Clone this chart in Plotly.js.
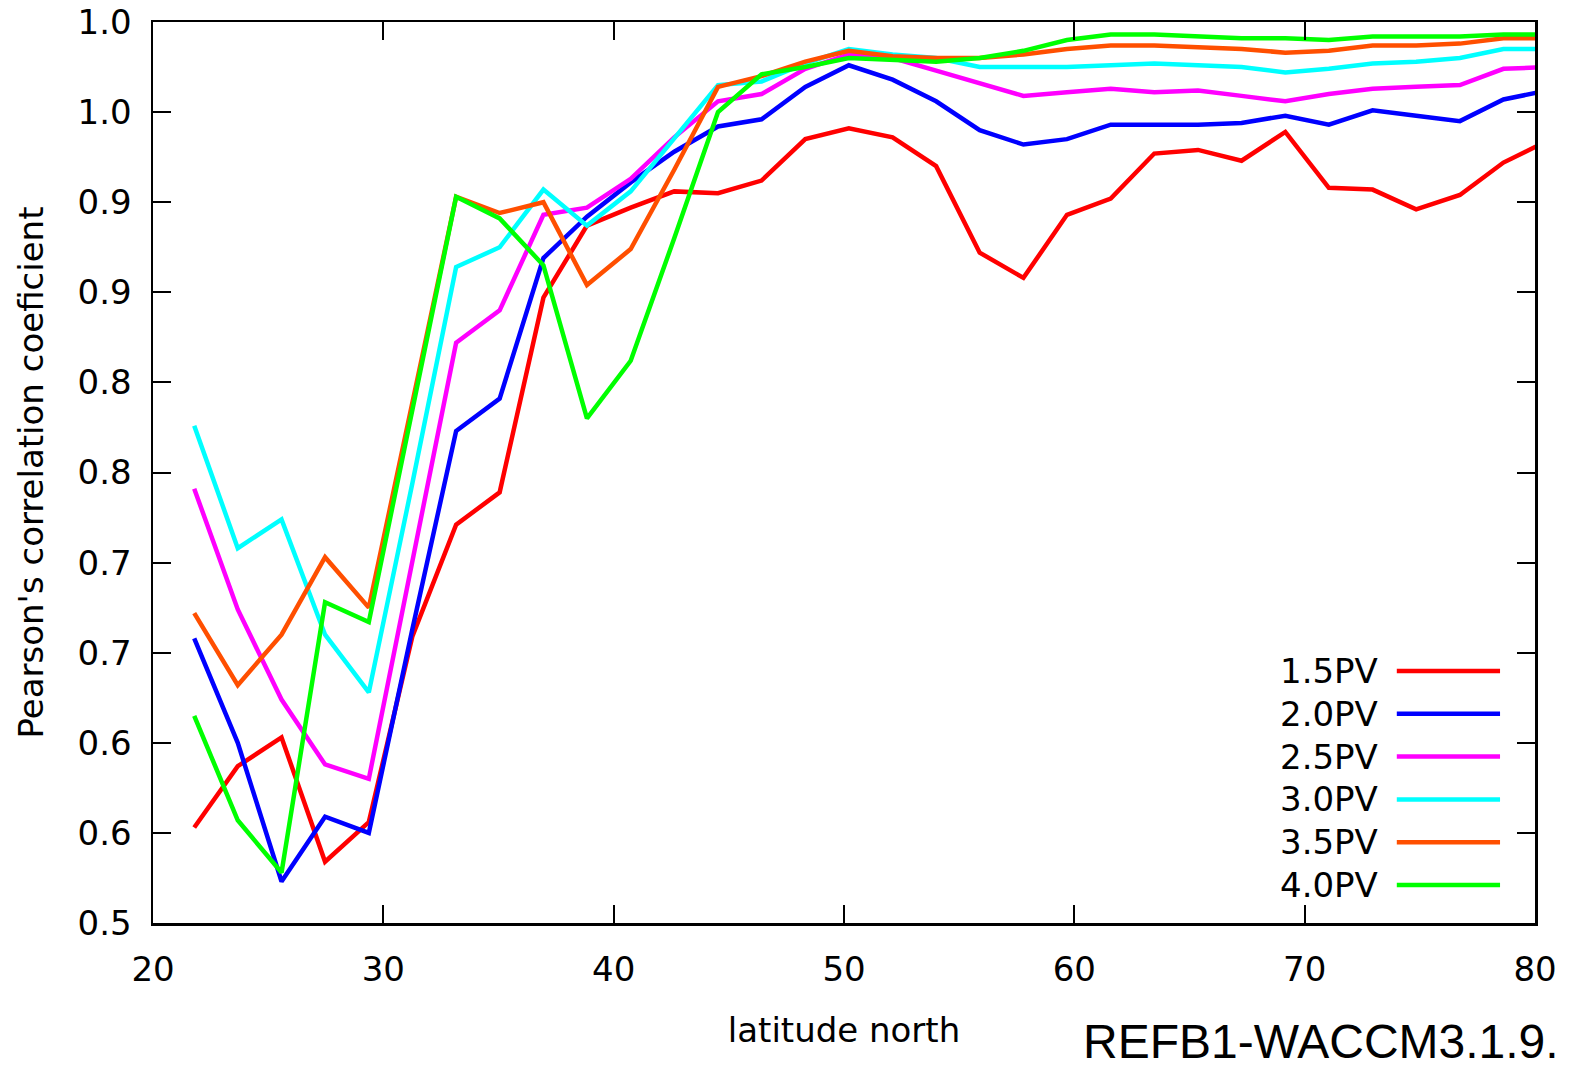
<!DOCTYPE html>
<html>
<head>
<meta charset="utf-8">
<script src="https://cdn.plot.ly/plotly-3.0.1.min.js"></script>
<style>
  html, body { margin: 0; padding: 0; background: #ffffff; }
  #chart { width: 1570px; height: 1067px; }
</style>
</head>
<body>
<div id="chart"></div>
<script>
// ---- data ----
const latitudes = [21.79, 23.68, 25.58, 27.47, 29.37, 31.26, 33.16, 35.05, 36.95, 38.84,
                   40.74, 42.63, 44.53, 46.42, 48.32, 50.21, 52.11, 54.00, 55.89, 57.79,
                   59.68, 61.58, 63.47, 65.37, 67.26, 69.16, 71.05, 72.95, 74.84, 76.74,
                   78.63, 80.53];

const pv15 = [0.553, 0.587, 0.603, 0.534, 0.556, 0.659, 0.721, 0.739, 0.847, 0.887,
              0.897, 0.906, 0.905, 0.912, 0.935, 0.941, 0.936, 0.920, 0.872, 0.858,
              0.893, 0.902, 0.927, 0.929, 0.923, 0.939, 0.908, 0.907, 0.896, 0.904,
              0.922, 0.934];
const pv20 = [0.658, 0.600, 0.523, 0.559, 0.550, 0.663, 0.773, 0.791, 0.869, 0.892,
              0.911, 0.928, 0.942, 0.946, 0.964, 0.976, 0.968, 0.956, 0.940, 0.932,
              0.935, 0.943, 0.943, 0.943, 0.944, 0.948, 0.943, 0.951, 0.948, 0.945,
              0.957, 0.962];
const pv25 = [0.741, 0.674, 0.624, 0.588, 0.580, 0.700, 0.822, 0.840, 0.893, 0.897,
              0.913, 0.936, 0.956, 0.960, 0.974, 0.982, 0.980, 0.973, 0.966, 0.959,
              0.961, 0.963, 0.961, 0.962, 0.959, 0.956, 0.960, 0.963, 0.964, 0.965,
              0.974, 0.975];
const pv30 = [0.776, 0.708, 0.724, 0.660, 0.628, 0.744, 0.864, 0.875, 0.907, 0.887,
              0.906, 0.935, 0.965, 0.967, 0.977, 0.985, 0.982, 0.980, 0.975, 0.975,
              0.975, 0.976, 0.977, 0.976, 0.975, 0.972, 0.974, 0.977, 0.978, 0.980,
              0.985, 0.985];
const pv35 = [0.672, 0.632, 0.660, 0.703, 0.675, 0.788, 0.903, 0.894, 0.900, 0.854,
              0.874, 0.918, 0.964, 0.970, 0.978, 0.984, 0.981, 0.980, 0.980, 0.982,
              0.985, 0.987, 0.987, 0.986, 0.985, 0.983, 0.984, 0.987, 0.987, 0.988,
              0.991, 0.991];
const pv40 = [0.615, 0.557, 0.528, 0.678, 0.667, 0.784, 0.903, 0.891, 0.865, 0.780,
              0.812, 0.880, 0.950, 0.971, 0.975, 0.980, 0.979, 0.978, 0.980, 0.984,
              0.990, 0.993, 0.993, 0.992, 0.991, 0.991, 0.990, 0.992, 0.992, 0.992,
              0.993, 0.993];

const seriesNames = ["1.5PV", "2.0PV", "2.5PV", "3.0PV", "3.5PV", "4.0PV"];
const seriesValues = [pv15, pv20, pv25, pv30, pv35, pv40];

const xTickVals = [20, 30, 40, 50, 60, 70, 80];
const yTickVals = [0.5, 0.55, 0.6, 0.65, 0.7, 0.75, 0.8, 0.85, 0.9, 0.95, 1.0];
const yTickText = ["0.5", "0.6", "0.6", "0.7", "0.7", "0.8", "0.8", "0.9", "0.9", "1.0", "1.0"];

const xTitle = "latitude north";
const yTitle = "Pearson's correlation coeficient";
const modelLabel = "REFB1-WACCM3.1.9.";

// ---- styles ----
const seriesColors = ["#ff0000", "#0000ff", "#ff00ff", "#00ffff", "#ff4f00", "#00ff00"];
const FONT = "DejaVu Sans, sans-serif";
const FS = 34;

const traces = seriesNames.map((name, i) => ({
  type: "scatter",
  mode: "lines",
  name: name,
  x: latitudes,
  y: seriesValues[i],
  line: { color: seriesColors[i], width: 4.5 },
  showlegend: false,
  hoverinfo: "skip"
}));

// gnuplot-style key: label text on the left, line sample on the right
const keyTop = 0.2797, keyStep = 0.0475;
const keyShapes = seriesNames.map((name, i) => ({
  type: "line", xref: "paper", yref: "paper",
  x0: 0.9, x1: 0.9747,
  y0: keyTop - i * keyStep, y1: keyTop - i * keyStep,
  line: { color: seriesColors[i], width: 4.5 }
}));
const keyLabels = seriesNames.map((name, i) => ({
  xref: "paper", yref: "paper",
  x: 0.888, y: keyTop - i * keyStep,
  xanchor: "right", yanchor: "middle",
  text: name, showarrow: false,
  font: { family: FONT, size: FS, color: "#000000" }
}));

const axisCommon = {
  showgrid: false,
  zeroline: false,
  showline: true,
  linecolor: "#000000",
  linewidth: 2.5,
  mirror: "ticks",
  ticks: "inside",
  ticklen: 18,
  tickwidth: 2,
  tickcolor: "#000000",
  tickfont: { family: FONT, size: FS, color: "#000000" }
};

const layout = {
  width: 1570,
  height: 1067,
  margin: { l: 153, r: 35, t: 22, b: 144 },
  paper_bgcolor: "#ffffff",
  plot_bgcolor: "#ffffff",
  showlegend: false,
  xaxis: Object.assign({}, axisCommon, {
    range: [20, 80],
    tickmode: "array",
    tickvals: xTickVals,
    ticktext: xTickVals.map(String),
    ticklabelstandoff: 15,
    title: { text: xTitle, font: { family: FONT, size: FS, color: "#000000" }, standoff: 30 }
  }),
  yaxis: Object.assign({}, axisCommon, {
    range: [0.5, 1.0],
    tickmode: "array",
    tickvals: yTickVals,
    ticktext: yTickText,
    ticklabelstandoff: 12,
    title: { text: yTitle, font: { family: FONT, size: FS, color: "#000000" }, standoff: 24 }
  }),
  shapes: keyShapes,
  annotations: keyLabels.concat([{
    xref: "paper", yref: "paper",
    x: 1.019, y: -0.1315,
    xanchor: "right", yanchor: "middle",
    text: modelLabel, showarrow: false,
    font: { family: "Liberation Sans, Arial, sans-serif", size: 48, color: "#000000" }
  }])
};

Plotly.newPlot("chart", traces, layout, { staticPlot: true, displayModeBar: false });
</script>
</body>
</html>
